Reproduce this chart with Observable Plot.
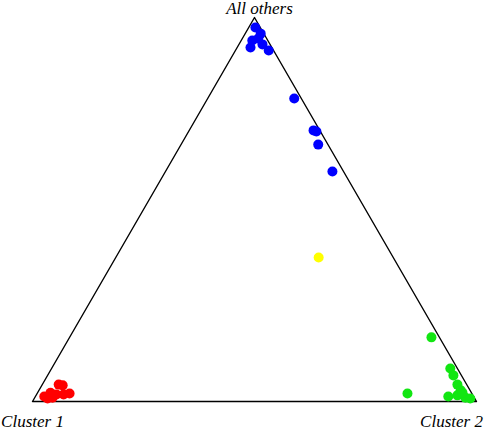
<!DOCTYPE html>
<html>
<head>
<meta charset="utf-8">
<script src="https://cdn.jsdelivr.net/npm/d3@7"></script>
<script src="https://cdn.jsdelivr.net/npm/@observablehq/plot@0.6"></script>
<style>
  html, body { margin: 0; padding: 0; background: #fff; }
  #chart svg { display: block; }
</style>
</head>
<body>
<div id="chart"></div>
<script>
// Vertex labels
const vertexLabels = ["Cluster 1", "Cluster 2", "All others"];

// Compositions: [Cluster 1 share, Cluster 2 share, All others share]
const bluePoints = [
  [0.011, 0.015, 0.974],
  [0.007, 0.035, 0.958],
  [0.035, 0.025, 0.940],
  [0.048, 0.030, 0.922],
  [0.019, 0.036, 0.945],
  [0.017, 0.053, 0.930],
  [0.011, 0.075, 0.914],
  [0.016, 0.195, 0.789],
  [0.014, 0.280, 0.706],
  [0.009, 0.288, 0.703],
  [0.022, 0.309, 0.669],
  [0.025, 0.376, 0.599]
];
const yellowPoints = [
  [0.168, 0.457, 0.375]
];
const redPoints = [
  [0.967, 0.020, 0.013],
  [0.948, 0.029, 0.023],
  [0.919, 0.037, 0.044],
  [0.911, 0.047, 0.042],
  [0.937, 0.045, 0.018],
  [0.921, 0.061, 0.018],
  [0.906, 0.073, 0.021],
  [0.962, 0.030, 0.008],
  [0.950, 0.040, 0.010]
];
const greenPoints = [
  [0.018, 0.815, 0.167],
  [0.016, 0.898, 0.086],
  [0.018, 0.914, 0.068],
  [0.021, 0.935, 0.044],
  [0.021, 0.950, 0.029],
  [0.145, 0.834, 0.021],
  [0.057, 0.930, 0.013],
  [0.035, 0.949, 0.016],
  [0.020, 0.970, 0.010],
  [0.010, 0.982, 0.008],
  [0.020, 0.957, 0.023]
];
const groupColors = {blue: "#0000ff", yellow: "#ffff00", red: "#ff0000", green: "#12e612"};

const H = Math.sqrt(3) / 2;
const toXY = ([a, b, c]) => ({x: b + c / 2, y: c * H});

const points = [
  ...redPoints.map(p => ({...toXY(p), g: "red"})),
  ...greenPoints.map(p => ({...toXY(p), g: "green"})),
  ...bluePoints.map(p => ({...toXY(p), g: "blue"})),
  ...yellowPoints.map(p => ({...toXY(p), g: "yellow"}))
];

const vertices = [[1, 0, 0], [0, 1, 0], [0, 0, 1]].map((v, i) => ({...toXY(v), label: vertexLabels[i]}));
const outline = [...vertices, vertices[0]];

const font = "'Liberation Serif', 'DejaVu Serif', serif";
const fs = 17;

const chart = Plot.plot({
  width: 489,
  height: 430,
  marginLeft: 32,
  marginRight: 13,
  marginTop: 17,
  marginBottom: 29,
  x: {domain: [0, 1], axis: null},
  y: {domain: [0, H], axis: null},
  style: {background: "#fff", overflow: "visible"},
  marks: [
    Plot.line(outline, {x: "x", y: "y", stroke: "#000", strokeWidth: 1.4}),
    Plot.dot(points, {x: "x", y: "y", r: 5, fill: d => groupColors[d.g], stroke: "none"}),
    Plot.text([vertices[2]], {x: "x", y: "y", text: "label", dy: -9, dx: 5, fontSize: fs, fontStyle: "italic", fontFamily: font, fill: "#000"}),
    Plot.text([vertices[0]], {x: "x", y: "y", text: "label", dy: 20, dx: 0, fontSize: fs, fontStyle: "italic", fontFamily: font, fill: "#000"}),
    Plot.text([vertices[1]], {x: "x", y: "y", text: "label", dy: 20, dx: -25, fontSize: fs, fontStyle: "italic", fontFamily: font, fill: "#000"})
  ]
});
document.getElementById("chart").appendChild(chart);
</script>
</body>
</html>
